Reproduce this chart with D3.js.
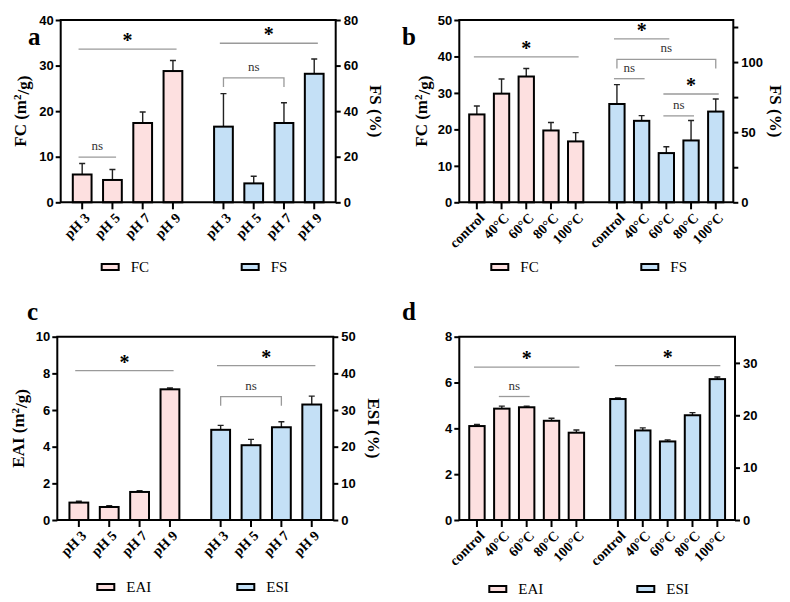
<!DOCTYPE html>
<html>
<head>
<meta charset="utf-8">
<script src="https://cdn.jsdelivr.net/npm/d3@7"></script>
<style>
  body { margin: 0; background: #fff; }
  svg { font-family: "Liberation Serif", "Times New Roman", serif; }
  .axis text { font-weight: bold; font-size: 13px; fill: #000; }
  .axis line { stroke: #000; stroke-width: 2; }
  .axis path { display: none; }
</style>
</head>
<body>
<svg id="fig" width="790" height="602"></svg>
<script>
// categories
var phLabels = ["pH 3", "pH 5", "pH 7", "pH 9"];
var tempLabels = ["control", "40°C", "60°C", "80°C", "100°C"];

// panel a : pH
var fcPh = [6.1, 4.9, 17.4, 28.8],   fcPhErr = [2.4, 2.3, 2.4, 2.3];
var fsPh = [33.2, 8.3, 34.8, 56.4],  fsPhErr = [14.5, 3.1, 8.9, 6.5];
// panel b : temperature
var fcTemp = [24.1, 29.8, 34.5, 19.7, 16.7], fcTempErr = [2.3, 4.0, 2.2, 2.2, 2.4];
var fsTemp = [70.1, 58.1, 35.1, 44.1, 64.7], fsTempErr = [13.8, 3.7, 4.5, 14.2, 9.0];
// panel c : pH
var eaiPh = [0.95, 0.71, 1.53, 7.13], eaiPhErr = [0.07, 0.07, 0.07, 0.07];
var esiPh = [24.6, 20.4, 25.3, 31.5], esiPhErr = [1.2, 1.6, 1.5, 2.3];
// panel d : temperature
var eaiTemp = [4.10, 4.86, 4.92, 4.33, 3.81], eaiTempErr = [0.07, 0.11, 0.05, 0.11, 0.12];
var esiTemp = [23.1, 17.1, 15.0, 20.0, 26.9], esiTempErr = [0.2, 0.5, 0.3, 0.5, 0.4];

// tick values
var ticksA_L = [0, 10, 20, 30, 40],       ticksA_R = [0, 20, 40, 60, 80];
var ticksB_L = [0, 10, 20, 30, 40, 50],   ticksB_R = [0, 25, 50, 75, 100, 125];
var ticksC_L = [0, 2, 4, 6, 8, 10],       ticksC_R = [0, 10, 20, 30, 40, 50];
var ticksD_L = [0, 2, 4, 6, 8],           ticksD_R = [0, 10, 20, 30];

// significance marks: group, from, to, level (left-axis units), text, bracket
var sigA = [[0, 0, 3, 33.6, "*", 0], [1, 0, 3, 34.9, "*", 0], [1, 0, 2, 27.3, "ns", 1], [0, 0, 1, 9.9, "ns", 0]];
var sigB = [[0, 0, 4, 39.9, "*", 0], [1, 0, 2, 44.8, "*", 0], [1, 0, 4, 39.2, "ns", 1],
            [1, 0, 1, 33.9, "ns", 0], [1, 2, 4, 29.7, "*", 0], [1, 2, 3, 23.7, "ns", 0]];
var sigC = [[0, 0, 3, 8.15, "*", 0], [1, 0, 3, 8.42, "*", 0], [1, 0, 2, 6.73, "ns", 1]];
var sigD = [[0, 0, 4, 6.67, "*", 0], [1, 0, 4, 6.74, "*", 0], [0, 1, 2, 5.39, "ns", 0]];

var pinkFill = "#fde0e0", blueFill = "#c4e0f6";
var svg = d3.select("#fig");

var panels = [
  {letter: "a", lx: 28, ly: 45, left: 60.7, right: 335.7, top: 20, bottom: 202.3,
   cats: phLabels, s1: fcPh, e1: fcPhErr, s2: fsPh, e2: fsPhErr,
   yL: [0, 40], tL: ticksA_L, yR: [0, 80], tR: ticksA_R, labR: null,
   titleL: "FC", titleR: "FS (%)", tLx: 20, tRx: 376, names: ["FC", "FS"], legY: 267, legX: [41, 181], sig: sigA},
  {letter: "b", lx: 402, ly: 45, left: 459.3, right: 733.3, top: 20, bottom: 202.3,
   cats: tempLabels, s1: fcTemp, e1: fcTempErr, s2: fsTemp, e2: fsTempErr,
   yL: [0, 50], tL: ticksB_L, yR: [0, 130], tR: ticksB_R, labR: [0, 50, 100],
   titleL: "FC", titleR: "FS (%)", tLx: 421, tRx: 776, names: ["FC", "FS"], legY: 267, legX: [32, 182], sig: sigB},
  {letter: "c", lx: 27, ly: 320, left: 57.3, right: 333.3, top: 336.7, bottom: 520,
   cats: phLabels, s1: eaiPh, e1: eaiPhErr, s2: esiPh, e2: esiPhErr,
   yL: [0, 10], tL: ticksC_L, yR: [0, 50], tR: ticksC_R, labR: null,
   titleL: "EAI", titleR: "ESI (%)", tLx: 18, tRx: 374, names: ["EAI", "ESI"], legY: 587, legX: [40, 180], sig: sigC},
  {letter: "d", lx: 402, ly: 320, left: 459.3, right: 735, top: 336.7, bottom: 520,
   cats: tempLabels, s1: eaiTemp, e1: eaiTempErr, s2: esiTemp, e2: esiTempErr,
   yL: [0, 8], tL: ticksD_L, yR: [0, 35], tR: ticksD_R, labR: null,
   titleL: null, titleR: null, names: ["EAI", "ESI"], legY: 589, legX: [30, 178], sig: sigD}
];

var gap = 1.67;   // extra slots between the two groups

panels.forEach(function(p) {
  var n = p.cats.length;
  var x = d3.scaleLinear()
      .domain([-0.71, 2 * (n - 1) + gap + 0.71])
      .range([p.left, p.right]);
  var step = x(1) - x(0);
  var bw = step * 0.62;
  var pos = function(g, i) { return x(i + g * (n - 1 + gap)); };

  var yL = d3.scaleLinear().domain(p.yL).range([p.bottom, p.top]);
  var yR = d3.scaleLinear().domain(p.yR).range([p.bottom, p.top]);
  var g = svg.append("g");

  // panel letter
  g.append("text").attr("x", p.lx).attr("y", p.ly)
    .style("font-weight", "bold").style("font-size", "25px").text(p.letter);

  // significance marks
  p.sig.forEach(function(s) {
    var yy = yL(s[3]);
    var x1 = pos(s[0], s[1]), x2 = pos(s[0], s[2]);
    if (!s[5]) { x1 -= step * 0.12; x2 += step * 0.12; }
    var path = s[5]
      ? "M" + x1 + "," + (yy + 9) + "V" + yy + "H" + x2 + "V" + (yy + 9)
      : "M" + x1 + "," + yy + "H" + x2;
    g.append("path").attr("d", path).attr("fill", "none")
      .attr("stroke", "#9a9a9a").attr("stroke-width", 1.3);
    var t = g.append("text").attr("x", (x1 + x2) / 2).attr("text-anchor", "middle");
    if (s[4] === "*") {
      t.attr("y", yy - 2).style("font-size", "20px").style("font-weight", "bold").text("*");
    } else {
      t.attr("y", yy - 7).style("font-size", "13px").attr("fill", "#333").text("ns");
    }
  });

  // bars + error bars
  [[p.s1, p.e1, pinkFill], [p.s2, p.e2, blueFill]].forEach(function(ser, gi) {
    var scale = gi === 0 ? yL : yR;
    var grp = g.append("g");
    grp.selectAll("path.err").data(ser[0]).enter().append("path")
      .attr("class", "err")
      .attr("d", function(d, i) {
        var cx = pos(gi, i), yt = scale(d + ser[1][i]);
        return "M" + cx + "," + scale(d) + "V" + yt + "M" + (cx - 3) + "," + yt + "H" + (cx + 3);
      })
      .attr("stroke", "#222").attr("stroke-width", 1.4).attr("fill", "none");
    grp.selectAll("rect").data(ser[0]).enter().append("rect")
      .attr("x", function(d, i) { return pos(gi, i) - bw / 2; })
      .attr("y", function(d) { return scale(d); })
      .attr("width", bw)
      .attr("height", function(d) { return p.bottom - scale(d); })
      .attr("fill", ser[2]).attr("stroke", "#000").attr("stroke-width", 2);
  });

  // axes
  g.append("g").attr("class", "axis")
    .attr("transform", "translate(" + p.left + ",0)")
    .call(d3.axisLeft(yL).tickValues(p.tL).tickSize(5).tickPadding(2).tickFormat(d3.format("d")));
  g.append("g").attr("class", "axis")
    .attr("transform", "translate(" + p.right + ",0)")
    .call(d3.axisRight(yR).tickValues(p.tR).tickSize(5).tickPadding(3)
      .tickFormat(function(d) { return (!p.labR || p.labR.indexOf(d) >= 0) ? d : ""; }));

  // x axis ticks and labels
  var xs = [];
  for (var gi = 0; gi < 2; gi++) for (var i = 0; i < n; i++) xs.push({c: pos(gi, i), t: p.cats[i]});
  g.selectAll("line.xt").data(xs).enter().append("line")
    .attr("x1", function(d) { return d.c; }).attr("x2", function(d) { return d.c; })
    .attr("y1", p.bottom).attr("y2", p.bottom + 7)
    .attr("stroke", "#000").attr("stroke-width", 2);
  g.selectAll("text.xl").data(xs).enter().append("text")
    .attr("transform", function(d) { return "translate(" + (d.c + 5) + "," + (p.bottom + 13) + ") rotate(-45)"; })
    .attr("text-anchor", "end").attr("dy", "0.35em")
    .style("font-weight", "bold").style("font-size", "14px")
    .text(function(d) { return d.t; });

  // frame lines
  g.append("path")
    .attr("d", "M" + p.left + "," + p.bottom + "V" + p.top + "H" + p.right + "V" + p.bottom + "Z")
    .attr("fill", "none").attr("stroke", "#000").attr("stroke-width", 2);

  // axis titles
  if (p.titleL) {
    var tl = g.append("text")
      .attr("transform", "translate(" + p.tLx + "," + ((p.top + p.bottom) / 2) + ") rotate(-90)")
      .attr("text-anchor", "middle").attr("dy", "0.35em")
      .style("font-weight", "bold").style("font-size", "17px");
    tl.append("tspan").text(p.titleL + " (m");
    tl.append("tspan").attr("dy", "-0.45em").style("font-size", "11px").text("2");
    tl.append("tspan").attr("dy", "0.45em").text("/g)");
  }
  if (p.titleR) {
    g.append("text")
      .attr("transform", "translate(" + p.tRx + "," + ((p.top + p.bottom) / 2) + ") rotate(90)")
      .attr("text-anchor", "middle").attr("dy", "0.35em")
      .style("font-weight", "bold").style("font-size", "17px")
      .text(p.titleR);
  }

  // legend
  [pinkFill, blueFill].forEach(function(col, k) {
    var lx = p.left + p.legX[k];
    g.append("rect").attr("x", lx).attr("y", p.legY - 3).attr("width", 17).attr("height", 6)
      .attr("fill", col).attr("stroke", "#000").attr("stroke-width", 2);
    g.append("text").attr("x", lx + 29).attr("y", p.legY).attr("dy", "0.35em")
      .style("font-size", "15px").text(p.names[k]);
  });
});
</script>
</body>
</html>
